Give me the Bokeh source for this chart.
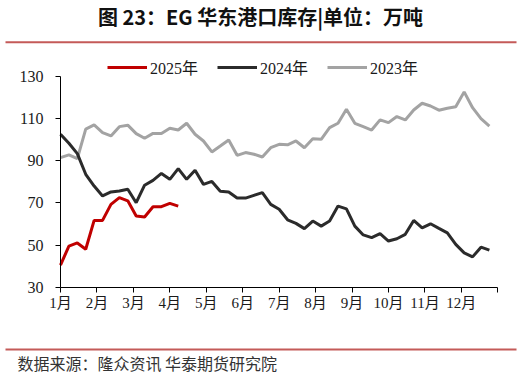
from bokeh.plotting import figure
from bokeh.models import Range1d, FixedTicker, BoxAnnotation, Label, Legend, LegendItem
from bokeh.embed import file_html
from bokeh.resources import INLINE

# ---------------- data ----------------
month_labels = ["1月", "2月", "3月", "4月", "5月", "6月", "7月", "8月", "9月", "10月", "11月", "12月"]
series_names = ["2025年", "2024年", "2023年"]

y2025 = [40.5, 49.5, 51.0, 48.0, 61.7, 61.7, 69.3, 72.5, 71.0, 63.8, 63.3, 68.2, 68.2, 69.8, 68.5]

y2024 = [102.6, 98.3, 93.4, 83.6, 78.0, 73.3, 75.2, 75.7, 76.5, 70.1,
         78.4, 80.7, 84.0, 81.2, 86.3, 81.2, 85.5, 78.8, 80.2, 75.5,
         75.2, 72.3, 72.3, 73.6, 74.9, 69.3, 67.0, 62.0, 60.3, 57.8,
         61.4, 59.0, 61.4, 68.5, 67.2, 59.0, 54.8, 53.5, 55.4, 51.9,
         53.0, 55.1, 61.7, 58.2, 60.1, 57.9, 55.8, 50.3, 46.3, 44.4,
         49.0, 47.6]

y2023 = [91.5, 92.8, 91.0, 105.0, 107.0, 103.4, 101.8, 106.2, 106.9, 102.9,
         100.7, 103.0, 102.9, 105.4, 104.6, 107.8, 102.6, 99.4, 94.2, 97.0,
         99.9, 92.6, 93.9, 93.1, 91.8, 96.2, 97.8, 97.6, 99.4, 96.2,
         100.5, 100.2, 105.7, 107.8, 114.5, 107.8, 106.2, 104.6, 109.4, 108.1,
         111.0, 109.4, 114.1, 117.3, 116.0, 114.0, 114.9, 115.6, 122.7, 115.2,
         110.0, 106.5]

y_ticks = [30, 50, 70, 90, 110, 130]

WEEKS_PER_YEAR = 52


def week_positions(n):
    # weekly observations expressed in month units on the x axis
    return [i * 12 / WEEKS_PER_YEAR for i in range(n)]


# ---------------- layout geometry (pixels) ----------------
W, H = 521, 379
AX_L, AX_R = 60.0, 497.3      # x pixel of month 0 / month 12
AX_T, AX_B = 76.0, 286.7      # y pixel of value 130 / value 30
X0, X1, Y0, Y1 = 0, 12, 30, 130
sx = (AX_R - AX_L) / (X1 - X0)
sy = (AX_B - AX_T) / (Y1 - Y0)


def dx(px):
    return X0 + (px - AX_L) / sx


def dy(py):
    return Y1 - (py - AX_T) / sy


# ---------------- figure ----------------
p = figure(width=W, height=H, output_backend="svg", toolbar_location=None,
           x_range=Range1d(dx(0), dx(W)), y_range=Range1d(dy(H), dy(0)),
           min_border=0, min_border_left=0, min_border_right=0,
           min_border_top=0, min_border_bottom=0)
p.outline_line_color = None
p.grid.visible = False
p.background_fill_color = "white"
p.border_fill_color = "white"

c2025, c2024, c2023 = "#c00000", "#2b2b2b", "#a3a3a3"

r23 = p.line(week_positions(len(y2023)), y2023, line_color=c2023, line_width=3)
r24 = p.line(week_positions(len(y2024)), y2024, line_color=c2024, line_width=3)
r25 = p.line(week_positions(len(y2025)), y2025, line_color=c2025, line_width=3)

# axes, pinned at the data origin
serif = "Liberation Serif, 'Noto Sans CJK SC'"
p.xaxis.ticker = FixedTicker(ticks=list(range(13)))
overrides = {i: lab for i, lab in enumerate(month_labels)}
overrides[12] = ""
p.xaxis.major_label_overrides = overrides
p.yaxis.ticker = FixedTicker(ticks=y_ticks)
p.xaxis.fixed_location = Y0
p.yaxis.fixed_location = X0
p.xaxis.bounds = (X0, X1)
p.yaxis.bounds = (Y0, Y1)
for ax in (p.xaxis[0], p.yaxis[0]):
    ax.axis_line_color = "black"
    ax.axis_line_width = 1
    ax.major_tick_line_color = "black"
    ax.major_tick_in = 0
    ax.major_tick_out = 5
    ax.minor_tick_line_color = None
    ax.major_label_text_font = serif
    ax.major_label_text_color = "#1a1a1a"
p.xaxis.major_label_text_font_size = "15px"
p.yaxis.major_label_text_font_size = "16px"
p.xaxis.major_label_standoff = 3
p.yaxis.major_label_standoff = 12

# legend
legend = Legend(items=[LegendItem(label=series_names[0], renderers=[r25]),
                       LegendItem(label=series_names[1], renderers=[r24]),
                       LegendItem(label=series_names[2], renderers=[r23])],
                orientation="horizontal", location=(107, H - 79.3),
                border_line_color=None, background_fill_alpha=0,
                label_text_font=serif, label_text_font_size="16px", label_text_color="#1a1a1a",
                glyph_width=40, glyph_height=20, label_standoff=3, spacing=19,
                padding=0, margin=0)
p.add_layout(legend, "center")

# title, footer and rules
line_col = "#c45a58"
p.add_layout(BoxAnnotation(left=dx(5), right=dx(516), bottom=dy(42.7), top=dy(40.7),
                           fill_color=line_col, fill_alpha=1, line_color=None))
p.add_layout(BoxAnnotation(left=dx(5), right=dx(516), bottom=dy(350), top=dy(348),
                           fill_color=line_col, fill_alpha=1, line_color=None))

p.add_layout(Label(x=dx(260), y=dy(16), text="图 23：EG 华东港口库存|单位：万吨",
                   text_align="center", text_baseline="middle",
                   text_font="Noto Sans CJK SC", text_font_style="bold",
                   text_font_size="20px", text_color="#111111"))
p.add_layout(Label(x=dx(17), y=dy(362), text="数据来源：隆众资讯 华泰期货研究院",
                   text_align="left", text_baseline="middle",
                   text_font="Noto Sans CJK SC", text_font_size="16px",
                   text_color="#333333"))

open("out.html", "w").write(file_html(p, INLINE))
